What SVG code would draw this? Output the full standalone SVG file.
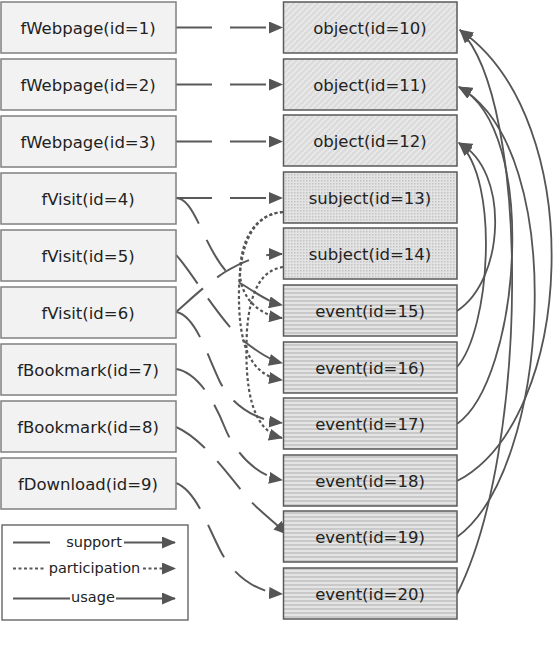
<svg xmlns="http://www.w3.org/2000/svg" width="560" height="650" viewBox="0 0 560 650">
<defs>
<style>
.frag{fill:#f2f2f2;stroke:#808080;stroke-width:1.5}
.obj{fill:url(#hatch);stroke:#5a5a5a;stroke-width:1.5}
.subj{fill:url(#dots);stroke:#5a5a5a;stroke-width:1.5}
.evt{fill:url(#stripes);stroke:#5a5a5a;stroke-width:1.5}
.lbl{font-family:"DejaVu Sans","Liberation Sans",sans-serif;font-size:16.5px;fill:#222222;text-anchor:middle}
.leg{font-family:"DejaVu Sans","Liberation Sans",sans-serif;font-size:14.5px;fill:#222222;text-anchor:middle}
.sup{fill:none;stroke:#595959;stroke-width:2;stroke-dasharray:36 18;marker-end:url(#arr)}
.par{fill:none;stroke:#555555;stroke-width:2.2;stroke-dasharray:3 2.5;marker-end:url(#arr)}
.use{fill:none;stroke:#555555;stroke-width:1.8;marker-end:url(#arr)}
.ln{fill:none;stroke:#595959;stroke-width:2}
</style>
<pattern id="hatch" patternUnits="userSpaceOnUse" width="6" height="6">
<rect width="6" height="6" fill="#dcdcdc"/>
<path d="M-1,1 l2,-2 M0,6 l6,-6 M5,7 l2,-2" stroke="#ececec" stroke-width="1.4"/>
</pattern>
<pattern id="dots" patternUnits="userSpaceOnUse" width="3" height="3">
<rect width="3" height="3" fill="#e3e3e3"/>
<rect width="1.5" height="1.5" fill="#c4c4c4"/>
</pattern>
<pattern id="stripes" patternUnits="userSpaceOnUse" width="4" height="4">
<rect width="4" height="4" fill="#e4e4e4"/>
<rect width="4" height="2" fill="#c9c9c9"/>
</pattern>
<marker id="arr" markerUnits="userSpaceOnUse" viewBox="0 0 14 12" refX="13" refY="6" markerWidth="14" markerHeight="12" orient="auto">
<path d="M0,0 L14,6 L0,12 z" fill="#555555"/>
</marker>
</defs>
<rect width="560" height="650" fill="#ffffff"/>

<g id="connectors">
<path class="sup" d="M176,27.5 H282"/>
<path class="sup" d="M176,84.5 H282"/>
<path class="sup" d="M176,141.5 H282"/>
<path class="sup" d="M176,198 H282"/>
<path class="sup" d="M176,198 C198,198 205,262 240,283 C255,292 268,302 282,305"/>
<path class="sup" d="M176,255 C188,266 220,322 245,342 C258,352 270,360 282,363"/>
<path class="sup" d="M176,312 C190,300 205,285 225,272 C245,260 262,254 282,254"/>
<path class="sup" d="M176,312 C195,315 205,350 220,382 C232,405 255,420 282,423"/>
<path class="sup" d="M176,369 C195,372 212,395 225,428 C236,455 258,476 282,480"/>
<path class="sup" d="M176,427 C200,437 225,470 245,495 C258,510 272,520 287,534"/>
<path class="sup" d="M176,483 C195,490 205,520 220,550 C232,574 255,592 282,594"/>
<path class="par" d="M283,212 C255,214 240,240 240,275 C242,300 260,315 282,318"/>
<path class="par" d="M283,212 C255,214 240,240 239,290 C238,345 250,375 282,380"/>
<path class="par" d="M283,267 C262,270 250,290 247,330 C244,390 252,430 282,438"/>
<path class="use" d="M457,311 C505,280 510,170 459,143"/>
<path class="use" d="M457,367 C490,330 500,180 459,143"/>
<path class="use" d="M457,424 C520,380 540,130 459,87"/>
<path class="use" d="M457,481 C575,420 590,120 460,30"/>
<path class="use" d="M457,537 C550,470 570,150 459,87"/>
<path class="use" d="M457,594 C530,450 530,100 460,30"/>
</g>

<g id="n1"><rect class="frag" x="1" y="2" width="175" height="51"/><text class="lbl" x="88" y="33.5">fWebpage(id=1)</text></g>
<g id="n2"><rect class="frag" x="1" y="59" width="175" height="51"/><text class="lbl" x="88" y="90.5">fWebpage(id=2)</text></g>
<g id="n3"><rect class="frag" x="1" y="116" width="175" height="51"/><text class="lbl" x="88" y="147.5">fWebpage(id=3)</text></g>
<g id="n4"><rect class="frag" x="1" y="173" width="175" height="51"/><text class="lbl" x="88" y="204.5">fVisit(id=4)</text></g>
<g id="n5"><rect class="frag" x="1" y="230" width="175" height="51"/><text class="lbl" x="88" y="261.5">fVisit(id=5)</text></g>
<g id="n6"><rect class="frag" x="1" y="287" width="175" height="51"/><text class="lbl" x="88" y="318.5">fVisit(id=6)</text></g>
<g id="n7"><rect class="frag" x="1" y="344" width="175" height="51"/><text class="lbl" x="88" y="375.5">fBookmark(id=7)</text></g>
<g id="n8"><rect class="frag" x="1" y="401" width="175" height="51"/><text class="lbl" x="88" y="432.5">fBookmark(id=8)</text></g>
<g id="n9"><rect class="frag" x="1" y="458" width="175" height="51"/><text class="lbl" x="88" y="489.5">fDownload(id=9)</text></g>

<g id="n10"><rect class="obj" x="283.5" y="2" width="173.5" height="51"/><text class="lbl" x="370" y="33.5">object(id=10)</text></g>
<g id="n11"><rect class="obj" x="283.5" y="59" width="173.5" height="51"/><text class="lbl" x="370" y="90.5">object(id=11)</text></g>
<g id="n12"><rect class="obj" x="283.5" y="115" width="173.5" height="51"/><text class="lbl" x="370" y="146.5">object(id=12)</text></g>
<g id="n13"><rect class="subj" x="283.5" y="172" width="173.5" height="51"/><text class="lbl" x="370" y="203.5">subject(id=13)</text></g>
<g id="n14"><rect class="subj" x="283.5" y="228" width="173.5" height="51"/><text class="lbl" x="370" y="259.5">subject(id=14)</text></g>
<g id="n15"><rect class="evt" x="283.5" y="285" width="173.5" height="51"/><text class="lbl" x="370" y="316.5">event(id=15)</text></g>
<g id="n16"><rect class="evt" x="283.5" y="342" width="173.5" height="51"/><text class="lbl" x="370" y="373.5">event(id=16)</text></g>
<g id="n17"><rect class="evt" x="283.5" y="398" width="173.5" height="51"/><text class="lbl" x="370" y="429.5">event(id=17)</text></g>
<g id="n18"><rect class="evt" x="283.5" y="455" width="173.5" height="51"/><text class="lbl" x="370" y="486.5">event(id=18)</text></g>
<g id="n19"><rect class="evt" x="283.5" y="511" width="173.5" height="51"/><text class="lbl" x="370" y="542.5">event(id=19)</text></g>
<g id="n20"><rect class="evt" x="283.5" y="568" width="173.5" height="51"/><text class="lbl" x="370" y="599.5">event(id=20)</text></g>

<g id="legend">
<rect x="2" y="525" width="186" height="95" fill="#ffffff" stroke="#595959" stroke-width="1.3"/>
<line class="ln" x1="13" y1="542.5" x2="50" y2="542.5"/>
<text class="leg" x="94" y="547">support</text>
<line class="ln" x1="124" y1="542.5" x2="175" y2="542.5" style="marker-end:url(#arr)"/>
<line class="ln" x1="13" y1="568.5" x2="45" y2="568.5" stroke-dasharray="3 2.5"/>
<text class="leg" x="94.5" y="573">participation</text>
<line class="ln" x1="143" y1="568.5" x2="175" y2="568.5" stroke-dasharray="3 2.5" style="marker-end:url(#arr)"/>
<line class="ln" x1="13" y1="598.5" x2="70" y2="598.5"/>
<text class="leg" x="93" y="602">usage</text>
<line class="ln" x1="116" y1="598.5" x2="175" y2="598.5" style="marker-end:url(#arr)"/>
</g>
</svg>
